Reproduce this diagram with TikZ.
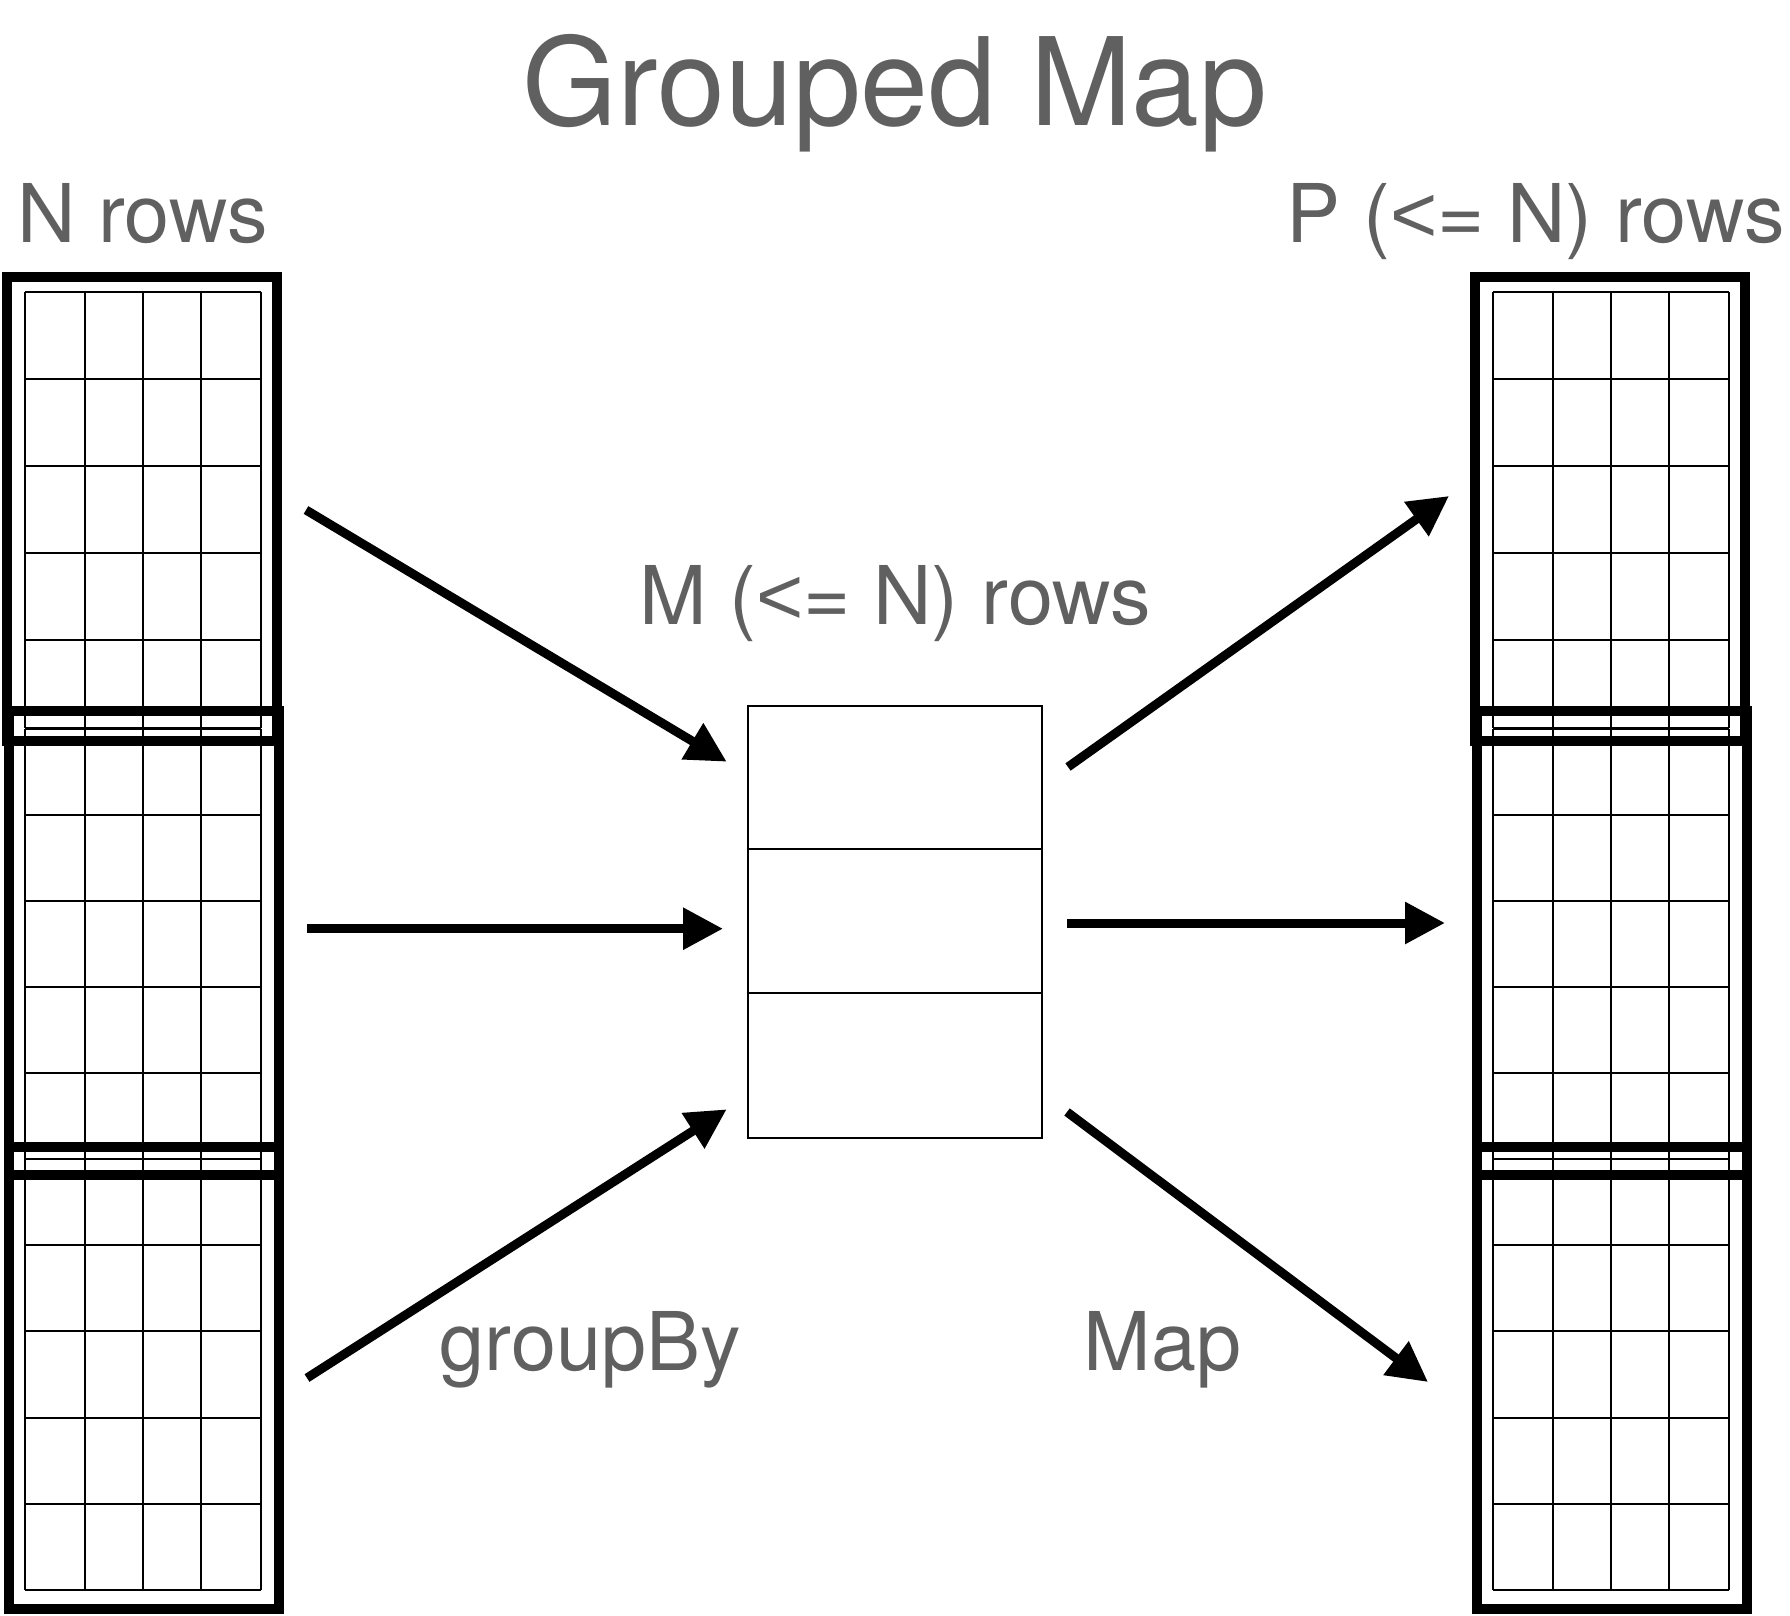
\documentclass[tikz,border=0pt]{standalone}
\usepackage{fontspec}
\setmainfont{TeX Gyre Heros}
\newfontfamily\ltfont{Liberation Sans}
\usetikzlibrary{arrows.meta}
\definecolor{txtgray}{HTML}{606060}
\newcommand{\lessthan}{{\ltfont<}}
\tikzset{
  thickframe/.style={draw=black, line width=10pt},
  gridline/.style={draw=black, line width=2pt},
  boxline/.style={draw=black, line width=2pt},
  arr/.style={draw=black, line width=9pt, -{Triangle[length=40pt,width=40pt]}},
  lbl/.style={text=txtgray, inner sep=0pt, anchor=base, font=\fontsize{81pt}{92pt}\selectfont},
  ttl/.style={text=txtgray, inner sep=0pt, anchor=base, font=\fontsize{122pt}{134pt}\selectfont}
}
% #1 x offset, #2 outer left, #3 outer right, #4 outer top, #5 outer bottom, #6 grid top, #7 grid bottom
\newcommand{\gridblock}[7]{%
  \begin{scope}[xshift=#1pt]
    \foreach \r in {0,...,5} {
      \pgfmathsetmacro{\yy}{#6+(#7-#6)*\r/5}
      \draw[gridline] (25,\yy) -- (261,\yy);
    }
    \foreach \c in {25,85,143,201,261} {
      \draw[gridline] (\c,#6) -- (\c,#7);
    }
  \end{scope}
}
\newcommand{\frameblock}[5]{%
  \begin{scope}[xshift=#1pt]
    \draw[thickframe] (#2,#4) rectangle (#3,#5);
  \end{scope}
}
\begin{document}
\begin{tikzpicture}[x=1pt,y=-1pt]
\useasboundingbox (0,0) rectangle (1790,1616);
\fill[white] (0,0) rectangle (1790,1616);

% grids (left column and right column)
\foreach \xo in {0,1468} {
  \gridblock{\xo}{7}{277}{277}{741}{292}{727.5}
  \gridblock{\xo}{9}{279}{711}{1175}{728.5}{1159}
  \gridblock{\xo}{9}{279}{1147}{1609}{1159}{1590}
}
\foreach \xo in {0,1468} {
  \frameblock{\xo}{7}{277}{277}{741}
  \frameblock{\xo}{9}{279}{711}{1175}
  \frameblock{\xo}{9}{279}{1147}{1609}
}

% middle box
\node[boxline, minimum width=294pt, minimum height=432pt, inner sep=0pt, anchor=north west] (mid) at (746.7,704.7) {};
\draw[boxline] (746.7,849) -- (1041,849);
\draw[boxline] (746.7,992.7) -- (1041,992.7);

% texts
\node[ttl] (title) at (895,126) {Grouped Map};
\node[lbl] (nrows) at (142.5,242) {N rows};
\node[lbl] (prows) at (1535.5,242) {P (\lessthan= N) rows};
\node[lbl] (mrows) at (895,624) {M (\lessthan= N) rows};
\node[lbl] (grp) at (590,1370) {groupBy};
\node[lbl] (map) at (1162.5,1370) {Map};

% arrow end points
\coordinate (lts) at (306,510);
\coordinate (lte) at (726.7,761.7);
\coordinate (lms) at (307,928.7);
\coordinate (lme) at (723,928.7);
\coordinate (lbs) at (307,1378);
\coordinate (lbe) at (726.7,1109.3);
\coordinate (rts) at (1068,767);
\coordinate (rte) at (1449,496);
\coordinate (rms) at (1067,923);
\coordinate (rme) at (1445,923);
\coordinate (rbs) at (1067,1112);
\coordinate (rbe) at (1428,1382);

\draw[arr] (lts) -- (lte);
\draw[arr] (lms) -- (lme);
\draw[arr] (lbs) -- (lbe);
\draw[arr] (rts) -- (rte);
\draw[arr] (rms) -- (rme);
\draw[arr] (rbs) -- (rbe);
\end{tikzpicture}
\end{document}
